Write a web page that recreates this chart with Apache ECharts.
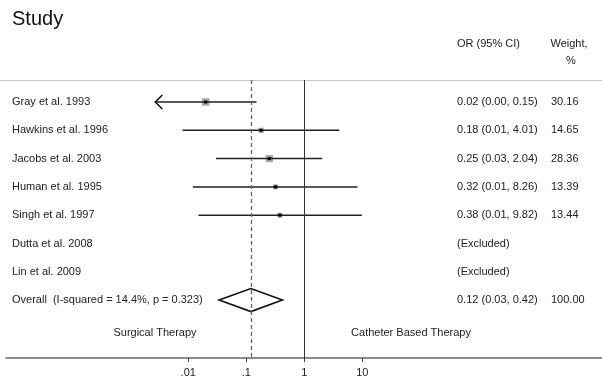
<!DOCTYPE html>
<html>
<head>
<meta charset="utf-8">
<script src="https://cdn.jsdelivr.net/npm/echarts@6/dist/echarts.min.js"></script>
<style>html,body{margin:0;padding:0;background:#fff}#c{width:602px;height:381px}</style>
</head>
<body>
<div id="c"></div>
<script>
const studies = ['Gray et al. 1993','Hawkins et al. 1996','Jacobs et al. 2003','Human et al. 1995','Singh et al. 1997','Dutta et al. 2008','Lin et al. 2009'];
const orValues = [0.02, 0.18, 0.25, 0.32, 0.38, null, null];
const ciLower = [0.001, 0.008, 0.03, 0.012, 0.015, null, null];
const ciUpper = [0.15, 4.01, 2.04, 8.26, 9.82, null, null];
const weights = [30.16, 14.65, 28.36, 13.39, 13.44, null, null];
const orLabels = ['0.02 (0.00, 0.15)','0.18 (0.01, 4.01)','0.25 (0.03, 2.04)','0.32 (0.01, 8.26)','0.38 (0.01, 9.82)','(Excluded)','(Excluded)'];
const weightLabels = ['30.16','14.65','28.36','13.39','13.44','',''];
const overallLabel = 'Overall  (I-squared = 14.4%, p = 0.323)';
const overallOR = 0.12, overallLower = 0.034, overallUpper = 0.42;
const overallORLabel = '0.12 (0.03, 0.42)';
const overallWeightLabel = '100.00';
const tickValues = [0.01, 0.1, 1, 10];
const tickLabels = ['.01', '.1', '1', '10'];
const lowerClip = 0.0027;
const leftLabel = 'Surgical Therapy';
const rightLabel = 'Catheter Based Therapy';

const FONT = '"Liberation Sans", Arial, sans-serif';
const TXT = '#222';

const chart = echarts.init(document.getElementById('c'), null, {renderer: 'canvas'});

const markData = [];
studies.forEach((s, i) => {
  if (orValues[i] != null) markData.push([orValues[i], i, ciLower[i], ciUpper[i], weights[i]]);
});
const rowLabelData = studies.map((s, i) => [1, i, s, orLabels[i], weightLabels[i]]);
rowLabelData.push([1, studies.length, overallLabel, overallORLabel, overallWeightLabel]);

function txt(x, y, text, align) {
  return {type: 'text', x: x, y: y, style: {text: text, font: '11px ' + FONT, fill: TXT, align: align || 'left', verticalAlign: 'middle'}};
}

const option = {
  animation: false,
  grid: {left: 6, right: 0, top: 80, bottom: 23, containLabel: false},
  xAxis: {
    type: 'log', logBase: 10, min: 7.2e-6, max: 1.36e5,
    splitLine: {show: false},
    axisLine: {show: true, onZero: false, lineStyle: {color: '#666', width: 1.5}},
    axisTick: {show: true, length: 4, customValues: tickValues, lineStyle: {color: '#444'}},
    axisLabel: {show: true, customValues: tickValues, margin: 9, fontSize: 11, fontFamily: FONT, color: TXT,
      formatter: function (v) { const i = tickValues.findIndex(t => Math.abs(Math.log10(t) - Math.log10(v)) < 1e-6); return i >= 0 ? tickLabels[i] : ''; }}
  },
  yAxis: {type: 'value', inverse: true, min: -0.777, max: 9.046, show: false},
  graphic: [
    {type: 'text', left: 12, top: 9, style: {text: 'Study', font: '20px ' + FONT, fill: '#111'}},
    {type: 'text', x: 457, y: 44, style: {text: 'OR (95% CI)', font: '11px ' + FONT, fill: TXT, verticalAlign: 'middle'}},
    {type: 'text', x: 569, y: 44, style: {text: 'Weight,', font: '11px ' + FONT, fill: TXT, align: 'center', verticalAlign: 'middle'}},
    {type: 'text', x: 571, y: 61, style: {text: '%', font: '11px ' + FONT, fill: TXT, align: 'center', verticalAlign: 'middle'}},
    {type: 'line', shape: {x1: 0, y1: 80.5, x2: 602, y2: 80.5}, style: {stroke: '#c8c8c8', lineWidth: 1.2}},
    {type: 'text', x: 155, y: 333, style: {text: leftLabel, font: '11px ' + FONT, fill: TXT, align: 'center', verticalAlign: 'middle'}},
    {type: 'text', x: 411, y: 333, style: {text: rightLabel, font: '11px ' + FONT, fill: TXT, align: 'center', verticalAlign: 'middle'}}
  ],
  series: [
    {
      type: 'custom', name: 'labels', silent: true,
      data: rowLabelData,
      encode: {x: 0, y: 1},
      renderItem: function (params, api) {
        const d = rowLabelData[params.dataIndex];
        const p = api.coord([1, api.value(1)]);
        return {type: 'group', children: [txt(12, p[1], d[2]), txt(457, p[1], d[3]), txt(551, p[1], d[4])]};
      }
    },
    {
      type: 'custom', name: 'studies', silent: true,
      data: markData,
      encode: {x: 0, y: 1},
      renderItem: function (params, api) {
        const y = api.value(1);
        const c = api.coord([api.value(0), y]);
        const lo = api.value(2), hi = api.value(3);
        const arrow = lo < lowerClip;
        const pLo = api.coord([arrow ? lowerClip : lo, y]);
        const pHi = api.coord([hi, y]);
        const side = 1.37 * Math.sqrt(api.value(4));
        const ch = [
          {type: 'rect', shape: {x: c[0] - side / 2, y: c[1] - side / 2, width: side, height: side}, style: {fill: '#a8a8a8'}},
          {type: 'line', shape: {x1: pLo[0], y1: c[1], x2: pHi[0], y2: c[1]}, style: {stroke: '#222', lineWidth: 1.5}},
          {type: 'rect', shape: {x: c[0] - 1.5, y: c[1] - 1.5, width: 3, height: 3}, style: {fill: '#000'}}
        ];
        if (arrow) {
          ch.push({type: 'polyline', shape: {points: [[pLo[0] + 7, c[1] - 7], [pLo[0], c[1]], [pLo[0] + 7, c[1] + 7]]}, style: {stroke: '#111', lineWidth: 1.5, fill: null}});
        }
        return {type: 'group', children: ch};
      },
      markLine: {
        silent: true, symbol: 'none', label: {show: false},
        data: [
          {xAxis: 1, lineStyle: {color: '#333', width: 1, type: 'solid'}},
          {xAxis: overallOR, lineStyle: {color: '#666', width: 1.3, type: [4, 3]}}
        ]
      }
    },
    {
      type: 'custom', name: 'overall', silent: true,
      data: [[overallOR, studies.length, overallLower, overallUpper]],
      encode: {x: 0, y: 1},
      renderItem: function (params, api) {
        const y = api.value(1);
        const c = api.coord([api.value(0), y]);
        const l = api.coord([api.value(2), y]);
        const r = api.coord([api.value(3), y]);
        return {type: 'polygon', shape: {points: [[l[0], c[1]], [c[0], c[1] - 11.5], [r[0], c[1]], [c[0], c[1] + 11.5]]}, style: {stroke: '#111', lineWidth: 1.6, fill: 'rgba(255,255,255,0)'}};
      }
    }
  ]
};
chart.setOption(option);
</script>
</body>
</html>
